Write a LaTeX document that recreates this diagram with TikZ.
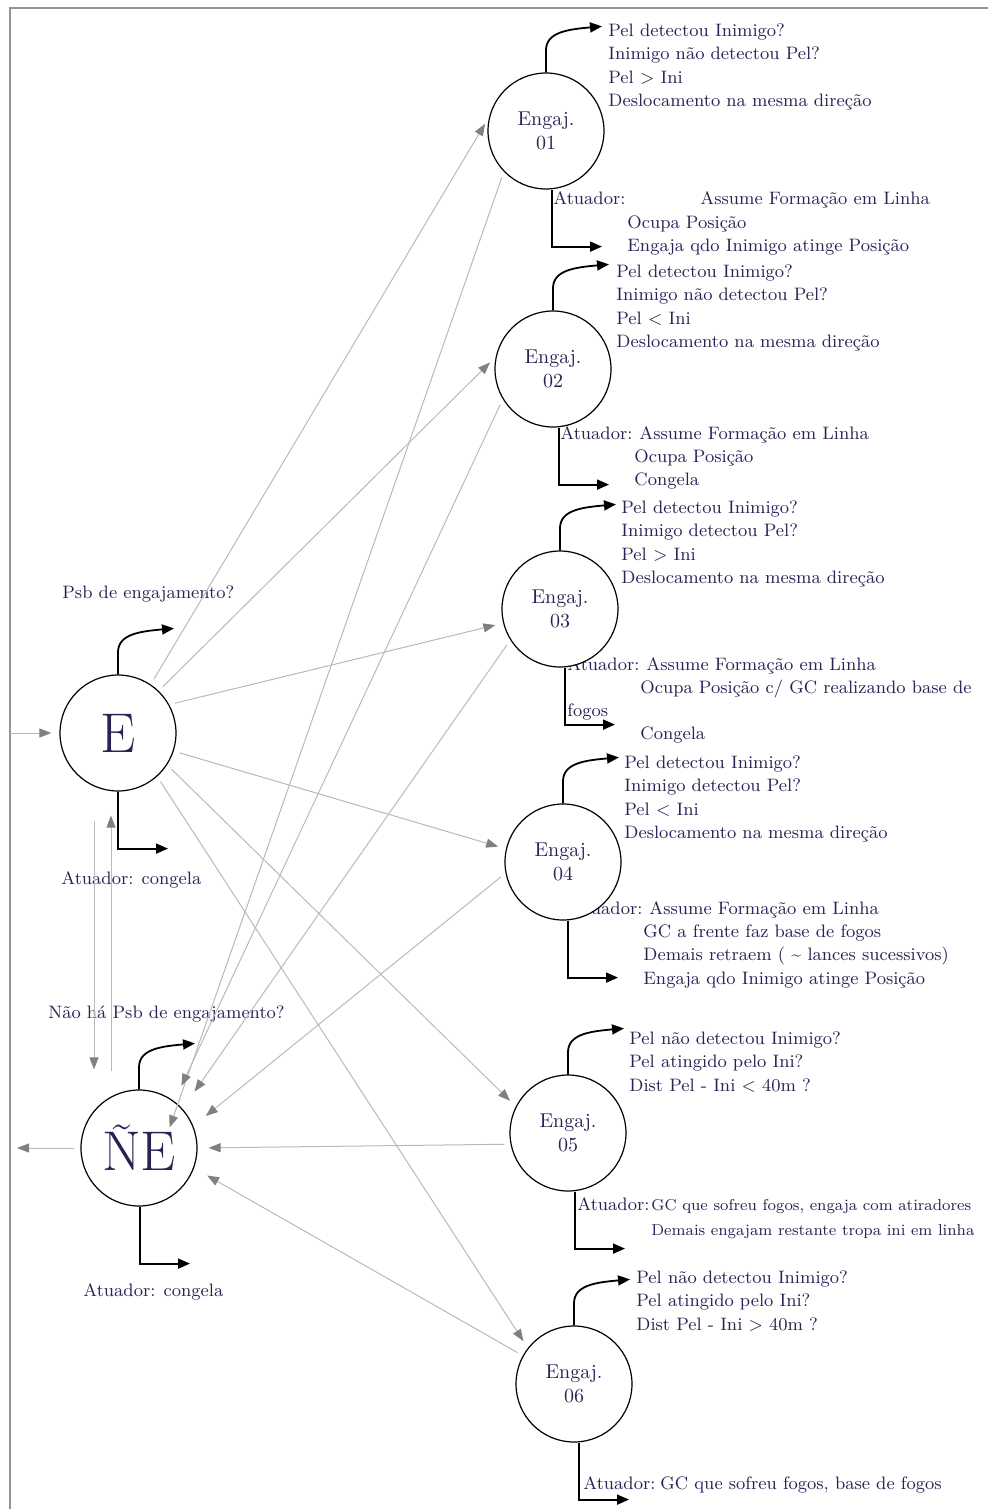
\documentclass[tikz,border=0pt]{standalone}
\usetikzlibrary{arrows.meta}
\definecolor{txtc}{RGB}{40,35,85}
\tikzset{
  state/.style={circle, draw, line width=0.6pt, fill=white, minimum size=58pt,
    inner sep=0pt, align=center, text=txtc, font=\fontsize{10}{12}\selectfont},
  bigstate/.style={state, font=\fontsize{28}{30}\selectfont},
  txt/.style={anchor=north west, inner sep=0pt, align=left, text=txtc,
    font=\fontsize{9}{11.75}\selectfont},
  smalltxt/.style={txt, font=\fontsize{7.9}{11.75}\selectfont},
  flow/.style={gray!55, line width=0.5pt,
    -{Triangle[length=6pt,width=4.5pt,color=gray]}, shorten <=3pt, shorten >=4pt},
  act/.style={black, line width=0.9pt, -{Triangle[length=6pt,width=5pt]}},
}
\begin{document}
\begin{tikzpicture}[x=0.5pt,y=-0.5pt]
  \useasboundingbox (0,0) rectangle (987,1509);
  \draw[gray!85, line width=1.2pt] (10,1520) -- (10,8) -- (1000,8);

  % textos
  \node[txt] (psb) at (62,585) {Psb de engajamento?};
  \node[txt] (actE) at (61,871) {Atuador: congela};
  \node[txt] (npsb) at (48,1005) {Não há Psb de engajamento?};
  \node[txt] (actNE) at (83,1283) {Atuador: congela};

  \node[txt] (q1) at (608,23) {Pel detectou Inimigo?\\Inimigo não detectou Pel?\\Pel > Ini\\Deslocamento na mesma direção};
  \node[txt] (a1) at (553,191) {Atuador:};
  \node[txt] at (700,191) {Assume Formação em Linha};
  \node[txt] at (627,215) {Ocupa Posição\\Engaja qdo Inimigo atinge Posição};

  \node[txt] (q2) at (616,264) {Pel detectou Inimigo?\\Inimigo não detectou Pel?\\Pel < Ini\\Deslocamento na mesma direção};
  \node[txt] (a2) at (560,426) {Atuador:};
  \node[txt] at (639,426) {Assume Formação em Linha};
  \node[txt] at (634,449) {Ocupa Posição\\Congela};

  \node[txt] (q3) at (621,500) {Pel detectou Inimigo?\\Inimigo detectou Pel?\\Pel > Ini\\Deslocamento na mesma direção};
  \node[txt] (a3) at (567,657) {Atuador:};
  \node[txt] at (646,657) {Assume Formação em Linha};
  \node[txt] at (640,680) {Ocupa Posição c/ GC realizando base de};
  \node[txt] at (567,703) {fogos};
  \node[txt] at (640,726) {Congela};

  \node[txt] (q4) at (624,755) {Pel detectou Inimigo?\\Inimigo detectou Pel?\\Pel < Ini\\Deslocamento na mesma direção};
  \node[txt] (a4) at (570,901) {Atuador:};
  \node[txt] at (649,901) {Assume Formação em Linha};
  \node[txt] at (643,924) {GC a frente faz base de fogos\\Demais retraem ( \textasciitilde{} lances sucessivos)\\Engaja qdo Inimigo atinge Posição};

  \node[txt] (q5) at (629,1031) {Pel não detectou Inimigo?\\Pel atingido pelo Ini?\\Dist Pel - Ini < 40m ?};
  \node[txt] (a5) at (577,1197) {Atuador:};
  \node[smalltxt] at (651,1199) {GC que sofreu fogos, engaja com atiradores};
  \node[smalltxt] at (651,1224) {Demais engajam restante tropa ini em linha};

  \node[txt] (q6) at (636,1270) {Pel não detectou Inimigo?\\Pel atingido pelo Ini?\\Dist Pel - Ini > 40m ?};
  \node[txt] (a6) at (583,1476) {Atuador:};
  \node[txt] at (660,1476) {GC que sofreu fogos, base de fogos};

  % estados
  \node[bigstate] (E) at (118,733) {E};
  \node[bigstate] (NE) at (139,1148) {ÑE};
  \node[state] (c1) at (546,131) {Engaj.\\01};
  \node[state] (c2) at (553,369) {Engaj.\\02};
  \node[state] (c3) at (560,609) {Engaj.\\03};
  \node[state] (c4) at (563,862) {Engaj.\\04};
  \node[state] (c5) at (568,1133) {Engaj.\\05};
  \node[state] (c6) at (574,1384) {Engaj.\\06};

  % condicoes e atuadores
  \foreach \n in {E,NE,c1,c2,c3,c4,c5,c6}
    \draw[act] (\n.north) -- ++(0,-22) .. controls +(0,-18) and +(-35,3) .. ++(56,-24);
  \foreach \n/\d in {E/0pt,NE/0.5pt,c1/3pt,c2/3pt,c3/2.5pt,c4/2.5pt,c5/3.5pt,c6/2.5pt}
    \draw[act] ([xshift=\d]\n.south) |- ++(50,57);

  % transicoes
  \coordinate (fin) at (10,733);
  \coordinate (fout) at (9,1148);
  \coordinate (neTip) at (167,1135);
  \draw[flow, shorten <=0pt] (fin) -- (E.west);
  \draw[flow] (NE.west) -- (fout);
  \foreach \a/\n/\b in {56/c1/166,46/c2/168,29/c3/194,342/c4/167,327/c5/153,312/c6/142}
    \draw[flow] (E.\a) -- (\n.\b);
  \draw[flow] (c1.224) -- (neTip);
  \foreach \n/\a/\b/\s in {c2/211/53/8.5pt,c3/212/42/10.5pt,c4/191/22/8pt,c5/191/0/5.5pt,c6/151/-20/7.5pt}
    \draw[flow, shorten >=\s] (\n.\a) -- (NE.\b);
  \draw[flow] ([xshift=-12pt,yshift=-11.5pt]E.south) -- ([xshift=-22.5pt,yshift=6pt]NE.north);
  \draw[flow] ([xshift=-14pt,yshift=6pt]NE.north) -- ([xshift=-3.5pt,yshift=-8pt]E.south);
\end{tikzpicture}
\end{document}
